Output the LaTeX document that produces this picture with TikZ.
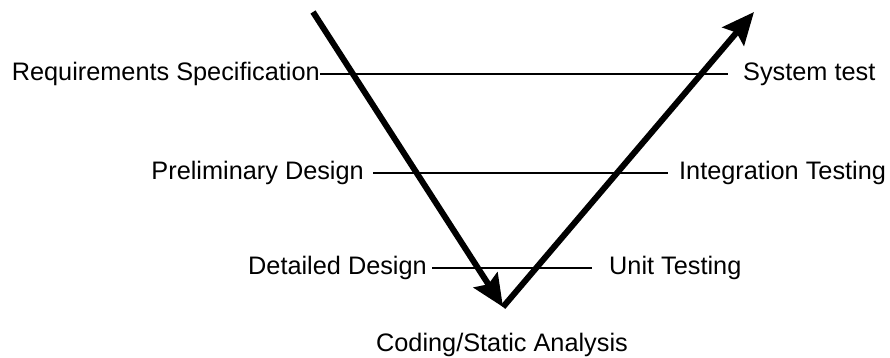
\documentclass[tikz,border=0pt]{standalone}
\usepackage{fontspec}
\setmainfont{Liberation Sans}
\usetikzlibrary{arrows.meta}
\begin{document}
\begin{tikzpicture}[x=1pt,y=1pt,
  label/.style={inner sep=0pt, text height=19pt, text depth=5pt,
    font=\fontsize{25.3}{29}\selectfont},
  rung/.style={line width=2pt},
  flow/.style={line width=6pt, -{Stealth[length=32pt,width=28pt,inset=5pt]}}]
  \useasboundingbox (0,0) rectangle (890,358);

  % corner points of the V
  \coordinate (start) at (313,346);
  \coordinate (vertex) at (503,51);
  \coordinate (finish) at (754,346);

  % phase labels
  \node[label, anchor=east] (req) at (320,284) {Requirements Specification};
  \node[label, anchor=west] (sys) at (743,284) {System test};
  \node[label, anchor=east] (pre) at (364,185) {Preliminary Design};
  \node[label, anchor=west] (int) at (679,185) {Integration Testing};
  \node[label, anchor=east] (det) at (427,90) {Detailed Design};
  \node[label, anchor=west] (unit) at (609,90) {Unit Testing};
  \node[label] (code) at (502,13) {Coding/Static Analysis};

  % horizontal links between matching phases
  \draw[rung, shorten >=15pt] (req.east) -- (sys.west);
  \draw[rung, shorten <=9pt, shorten >=11pt] (pre.east) -- (int.west);
  \draw[rung, shorten <=5pt, shorten >=17pt] (det.east) -- (unit.west);

  % the V itself
  \draw[flow] (start) -- (vertex);
  \draw[flow] (vertex) -- (finish);
\end{tikzpicture}
\end{document}
